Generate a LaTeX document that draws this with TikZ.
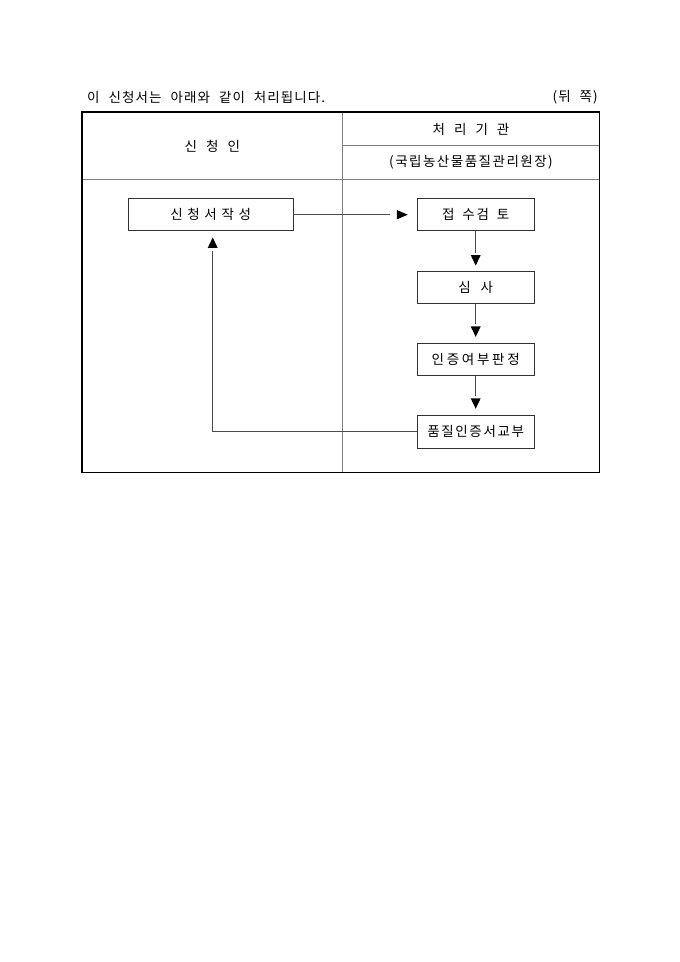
\documentclass[tikz,border=0pt]{standalone}
\usepackage{fontspec}
\setmainfont{Noto Sans CJK KR}
\newfontfamily\kr[LetterSpace=8,WordSpace=2.2]{Noto Sans CJK KR}
\newfontfamily\krbox[LetterSpace=12]{Noto Sans CJK KR}
\usetikzlibrary{calc}
\tikzset{
  stepbox/.style={draw=black!80, line width=0.9pt, minimum width=117pt, minimum height=32pt, inner sep=0pt, font=\krbox\fontsize{13.5}{16}\selectfont},
  conn/.style={draw=black!70, line width=0.9pt},
  tri/.style={fill=black},
  txt/.style={inner sep=0pt, font=\kr\fontsize{13.5}{16}\selectfont},
  grid/.style={draw=black!50, line width=1.3pt}
}
\begin{document}
\begin{tikzpicture}[x=1pt,y=-1pt]
\useasboundingbox[fill=white] (0,0) rectangle (680,962);
% table lines
\draw[grid] (342.7,112) -- (342.7,472);
\draw[grid] (342.7,145.8) -- (599,145.8);
\draw[grid] (82,179.5) -- (599,179.5);
\draw[black, line width=1.8pt] (82,112) rectangle (599.5,472.5);
% header texts
\node[txt, anchor=west] (title) at (87,97.5) {이 신청서는 아래와 같이 처리됩니다.};
\node[txt, anchor=east] (back) at (598,97.5) {(뒤 쪽)};
\node[txt] (appl) at (212.4,146) {신 청 인};
\node[txt] (org) at (471,129) {처 리 기 관};
\node[txt] (orgname) at (471,162.5) {\addfontfeature{LetterSpace=11}(국립농산물품질관리원장)};
% boxes
\node[stepbox, minimum width=165pt] (b1) at (210.7,214.7) {신 청 서 작 성};
\node[stepbox] (b2) at (475.7,214.7) {접\hspace{8pt}수검\hspace{8pt}토};
\node[stepbox] (b3) at (475.7,287.3) {심\hspace{10pt}사};
\node[stepbox] (b4) at (475.7,359.3) {\addfontfeature{LetterSpace=20}인증여부판정};
\node[stepbox, minimum height=33pt] (b5) at (475.7,431.7) {품질인증서교부};
% connectors
\draw[conn] (b1.east) -- ($(b2.west)+(-26.5,0)$);
\fill[tri] ($(b2.west)+(-9,0)$) -- ++(-11,-4.7) -- ++(0,9.4) -- cycle;
\draw[conn] (b2.south) -- ($(b3.north)+(0,-18)$);
\fill[tri] ($(b3.north)+(0,-5.3)$) -- ++(-5,-10.5) -- ++(10,0) -- cycle;
\draw[conn] (b3.south) -- ($(b4.north)+(0,-18.5)$);
\fill[tri] ($(b4.north)+(0,-6)$) -- ++(-5,-10.5) -- ++(10,0) -- cycle;
\draw[conn] (b4.south) -- ($(b5.north)+(0,-18.5)$);
\fill[tri] ($(b5.north)+(0,-6)$) -- ++(-5,-10.5) -- ++(10,0) -- cycle;
\coordinate (up) at ($(b1.south)+(2,19.5)$);
\draw[conn] (b5.west) -| (up);
\fill[tri] ($(b1.south)+(2,6.3)$) -- ++(-5,10.5) -- ++(10,0) -- cycle;
\end{tikzpicture}
\end{document}
